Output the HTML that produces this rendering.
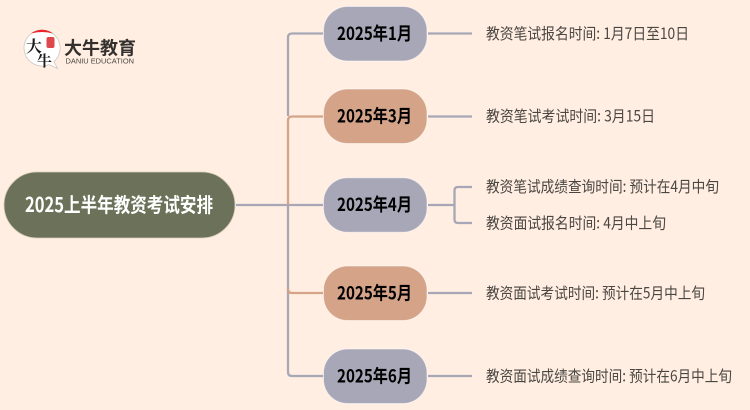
<!DOCTYPE html>
<html><head><meta charset="utf-8"><style>
html,body{margin:0;padding:0;background:#ffeee1}
svg{display:block}
text{font-family:"Liberation Sans","Noto Sans CJK SC",sans-serif}
.n{font-family:"Noto Sans CJK SC",sans-serif;font-weight:700;font-size:18px;fill:#000}
.l{font-family:"Noto Sans CJK SC",sans-serif;font-size:15.5px;fill:#4a4642}
</style></head><body>
<svg width="750" height="410" viewBox="0 0 750 410" xmlns="http://www.w3.org/2000/svg">
<rect width="750" height="410" fill="#ffeee1"/>
<g fill="none" stroke-width="2.300">
<path d="M236 205H323M323 33.500H292Q288 33.500 288 37.500V116" stroke="#a8a7b8"/>
<path d="M288 205V120.500Q288 116.500 292 116.500H323" stroke="#d4a388"/>
<path d="M288 205V372Q288 376 292 376H323" stroke="#a8a7b8"/>
<path d="M288 289Q288 293 292 293H323" stroke="#d4a388"/>
<path d="M428 33.500H472M428 116.500H472M428 205H455M428 293H472M428 376H472" stroke="#a8a7b8"/>
<path d="M472 187H458Q454.500 187 454.500 190.500V219.500Q454.500 223 458 223H472" stroke="#a8a7b8"/>
</g>
<rect x="4" y="172" width="231" height="66" rx="33" fill="#6b7259" stroke="#d8cdb8" stroke-width=".8"/>
<text x="25" y="212" textLength="188" lengthAdjust="spacingAndGlyphs" style="font-family:'Noto Sans CJK SC',sans-serif;font-weight:700;font-size:20px;fill:#fff">2025上半年教资考试安排</text>
<g stroke="#fff" stroke-opacity=".5" stroke-width="1">
<rect x="323.500" y="6.500" width="103.500" height="54.500" rx="24" fill="#a8a7b8"/>
<rect x="323.500" y="89" width="103.500" height="54.500" rx="24" fill="#d4a388"/>
<rect x="323.500" y="177.700" width="103.500" height="54.500" rx="24" fill="#a8a7b8"/>
<rect x="323.500" y="266" width="103.500" height="54.500" rx="24" fill="#d4a388"/>
<rect x="323.500" y="349" width="103.500" height="54.500" rx="24" fill="#a8a7b8"/>
</g>
<text class="n" x="337" y="40" textLength="75" lengthAdjust="spacingAndGlyphs">2025年1月</text>
<text class="n" x="337" y="122.500" textLength="75" lengthAdjust="spacingAndGlyphs">2025年3月</text>
<text class="n" x="337" y="211" textLength="75" lengthAdjust="spacingAndGlyphs">2025年4月</text>
<text class="n" x="337" y="299.500" textLength="75" lengthAdjust="spacingAndGlyphs">2025年5月</text>
<text class="n" x="337" y="382.500" textLength="75" lengthAdjust="spacingAndGlyphs">2025年6月</text>
<text class="l" x="486" y="39" textLength="203" lengthAdjust="spacingAndGlyphs">教资笔试报名时间:&#160;1月7日至10日</text>
<text class="l" x="486" y="121.500" textLength="169" lengthAdjust="spacingAndGlyphs">教资笔试考试时间:&#160;3月15日</text>
<text class="l" x="486" y="192" textLength="233" lengthAdjust="spacingAndGlyphs">教资笔试成绩查询时间:&#160;预计在4月中旬</text>
<text class="l" x="486" y="228.500" textLength="180" lengthAdjust="spacingAndGlyphs">教资面试报名时间:&#160;4月中上旬</text>
<text class="l" x="486" y="298.500" textLength="219" lengthAdjust="spacingAndGlyphs">教资面试考试时间:&#160;预计在5月中上旬</text>
<text class="l" x="486" y="381.500" textLength="246" lengthAdjust="spacingAndGlyphs">教资面试成绩查询时间:&#160;预计在6月中上旬</text>
<!-- logo -->
<path d="M42 30A18 18 0 1 0 49 64.600L57.500 68.500L54 61.500A18 18 0 0 0 42 30Z" fill="#fff" stroke="#cfc8c0" stroke-width=".8"/>
<path d="M31 33.500A18 18 0 0 1 53 33.500Q42 30.500 31 33.500Z" fill="#e8262a"/>
<rect x="46.500" y="37" width="8" height="11" rx="2" fill="#d9272c" opacity=".85"/>
<text x="26" y="52" style="font-family:'Noto Serif CJK SC',serif;font-size:16px;font-weight:700;fill:#1a1a1a">大</text>
<text x="37" y="66" style="font-family:'Noto Serif CJK SC',serif;font-size:15px;font-weight:700;fill:#1a1a1a">牛</text>
<text x="64" y="54.500" textLength="72" lengthAdjust="spacingAndGlyphs" style="font-family:'Noto Sans CJK SC',sans-serif;font-size:18px;font-weight:700;fill:#33302e">大牛教育</text>
<text x="65.500" y="63.500" textLength="68.500" lengthAdjust="spacingAndGlyphs" style="font-size:7px;fill:#4a4642">DANIU EDUCATION</text>
</svg>
</body></html>
